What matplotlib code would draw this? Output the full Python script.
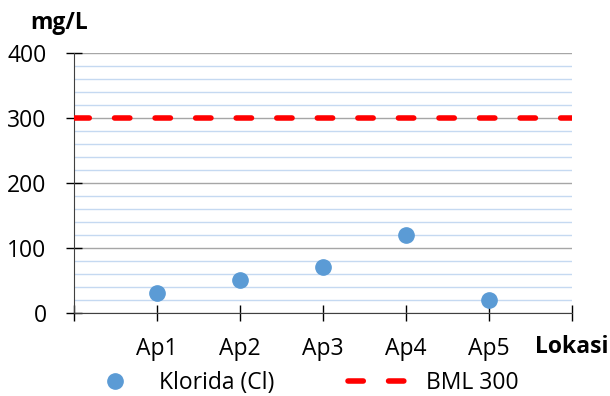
import matplotlib.pyplot as plt
from matplotlib.ticker import MultipleLocator, FixedLocator

# data
lokasi = ['Ap1', 'Ap2', 'Ap3', 'Ap4', 'Ap5']
klorida = [30, 50, 70, 120, 20]
bml = 300

plt.rcParams['font.family'] = ['Open Sans', 'DejaVu Sans']
fs = 16.5

fig = plt.figure(figsize=(6.1, 3.96), dpi=100)
ax = fig.add_axes([0.1213, 0.2096, 0.9377 - 0.1213, 0.8662 - 0.2096])

xpos = list(range(1, len(lokasi) + 1))

# grid
ax.set_ylim(0, 400)
ax.set_xlim(0, len(lokasi) + 1)
ax.yaxis.set_major_locator(MultipleLocator(100))
ax.yaxis.set_minor_locator(MultipleLocator(20))
ax.grid(which='minor', axis='y', color='#c5d9f1', lw=1.0)
ax.grid(which='major', axis='y', color='#a6a6a6', lw=1.0)
ax.set_axisbelow(True)

ax.plot([0, len(lokasi) + 1], [bml, bml], color='#ff0000', lw=4,
        dashes=(2.75, 4.55), dash_capstyle='round', label='BML 300', zorder=3)
ax.plot(xpos, klorida, 'o', color='#5b9bd5', ms=11, label='Klorida (Cl)', zorder=4)

ax.xaxis.set_major_locator(FixedLocator(range(0, len(lokasi) + 2)))
ax.set_xticklabels([''] + lokasi + [''])
ax.tick_params(axis='x', direction='inout', length=11, width=1, pad=12, labelsize=fs)
ax.tick_params(axis='y', which='major', direction='inout', length=11.5, width=1, pad=14, labelsize=fs)
ax.tick_params(axis='y', which='minor', length=0)

for s in ['top', 'right']:
    ax.spines[s].set_visible(False)
ax.spines['left'].set_color('#404040')
ax.spines['bottom'].set_color('#404040')

fig.text(0.049, 0.943, 'mg/L', fontsize=fs, fontweight='bold', va='center')
fig.text(0.997, 0.123, 'Lokasi', fontsize=fs, fontweight='bold', va='center', ha='right')

h, l = ax.get_legend_handles_labels()
fig.legend(h[::-1], l[::-1], loc='center', bbox_to_anchor=(0.492, 0.033), ncol=2,
           frameon=False, fontsize=fs, handlelength=2.9, columnspacing=3.2,
           handletextpad=0.48, borderpad=0)

fig.savefig('out.png', dpi=100)
